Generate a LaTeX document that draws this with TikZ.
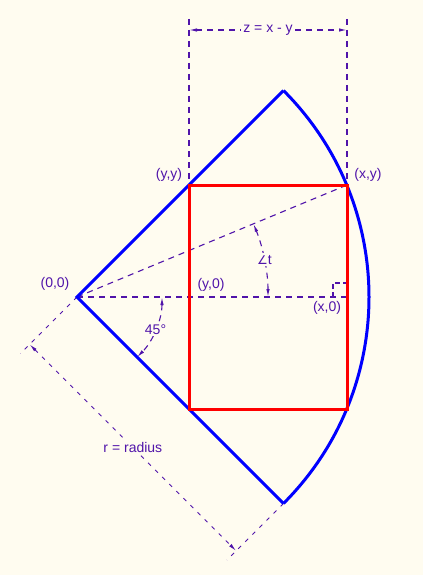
\documentclass[tikz,border=0pt]{standalone}
\usepackage{fontspec}
\setmainfont{Liberation Sans}
\newfontfamily\dejavu{DejaVu Sans}
\usetikzlibrary{arrows.meta,calc}
\definecolor{bg}{RGB}{255,252,240}
\definecolor{dimc}{RGB}{80,20,170}
\definecolor{sblue}{RGB}{0,0,255}
\definecolor{sred}{RGB}{255,0,0}
\begin{document}
\begin{tikzpicture}[x=1pt,y=-1pt,
  lbl/.style={text=dimc,font=\fontsize{14}{16}\selectfont,inner sep=1pt},
  gaplbl/.style={lbl,fill=bg,inner sep=2pt},
  dimline/.style={draw=dimc,line width=1.1pt,dash pattern=on 6pt off 5pt},
  thindash/.style={draw=dimc,line width=1pt,dash pattern=on 4pt off 6pt},
  dimarrows/.style={dimline,{Latex[length=8pt,width=3.5pt]}-{Latex[length=8pt,width=3.5pt]}},
  bluebold/.style={draw=sblue,line width=3pt,line join=miter},
  redbold/.style={draw=sred,line width=3pt}
]
\useasboundingbox (0,0) rectangle (423,575);
\fill[bg] (0,0) rectangle (423,575);

% key points
\coordinate (O) at (77,297);
\coordinate (A) at ($(O)+(-45:292)$);
\coordinate (B) at ($(O)+(45:292)$);
\coordinate (YY) at (189,185);
\coordinate (XY) at (347,185);
\coordinate (Y0) at (189,297);
\coordinate (X0) at (347,297);
\coordinate (RB) at (347,409);
\coordinate (LB) at (189,409);

% z dimension
\coordinate (zt1) at (189,19);
\coordinate (zt2) at (347,19);
\coordinate (z1) at (189,30);
\coordinate (z2) at (347,30);
\draw[dimline] (zt1) -- (YY);
\draw[dimline] (zt2) -- (XY);
\draw[dimarrows] (z1) -- (z2) node[midway,gaplbl] (zlbl) {z = x - y};

% construction lines
\draw[dimline] (O) -- (XY);
\draw[dimline] (O) -- (X0);
\coordinate (ra1) at (333,297);
\coordinate (ra2) at (333,283);
\coordinate (ra3) at (347,283);
\draw[draw=dimc,line width=1.1pt,dash pattern=on 5pt off 3pt] (ra1) -- (ra2) -- (ra3);

% angle t
\coordinate (t0) at ($(O)+(0:191)$);
\draw[dimline,{Latex[length=8pt,width=3.5pt]}-{Latex[length=8pt,width=3.5pt]}]
  (t0) arc[start angle=0,end angle=-22.5,radius=191]
  node[pos=0.5,gaplbl] (tlbl) {{\dejavu\fontsize{12}{14}\selectfont ∠}t};

% angle 45
\coordinate (f0) at ($(O)+(0:85)$);
\draw[dimline,{Latex[length=8pt,width=3.5pt]}-{Latex[length=8pt,width=3.5pt]}]
  (f0) arc[start angle=0,end angle=45,radius=85]
  node[pos=0.5,gaplbl] (flbl) {45°};

% radius dimension
\coordinate (e1) at ($(O)+(135:80)$);
\coordinate (e2) at ($(B)+(135:80)$);
\coordinate (P1) at ($(O)+(135:67)$);
\coordinate (P2) at ($(B)+(135:67)$);
\draw[thindash] (O) -- (e1);
\draw[thindash] (B) -- (e2);
\draw[thindash,{Latex[length=8pt,width=3.5pt]}-{Latex[length=8pt,width=3.5pt]}]
  (P1) -- (P2) node[midway,gaplbl] (rlbl) {r = radius};

% sector
\draw[bluebold] (A) -- (O) -- (B);
\draw[bluebold] (A) arc[start angle=-45,end angle=45,radius=292];

% rectangle
\draw[redbold] (YY) rectangle (RB);

% labels
\node[lbl] (l00) at (55,284) {(0,0)};
\node[lbl] (ly0) at (211,285) {(y,0)};
\node[lbl] (lx0) at (327,308) {(x,0)};
\node[lbl] (lyy) at (169,175) {(y,y)};
\node[lbl] (lxy) at (368,175) {(x,y)};
\end{tikzpicture}
\end{document}
